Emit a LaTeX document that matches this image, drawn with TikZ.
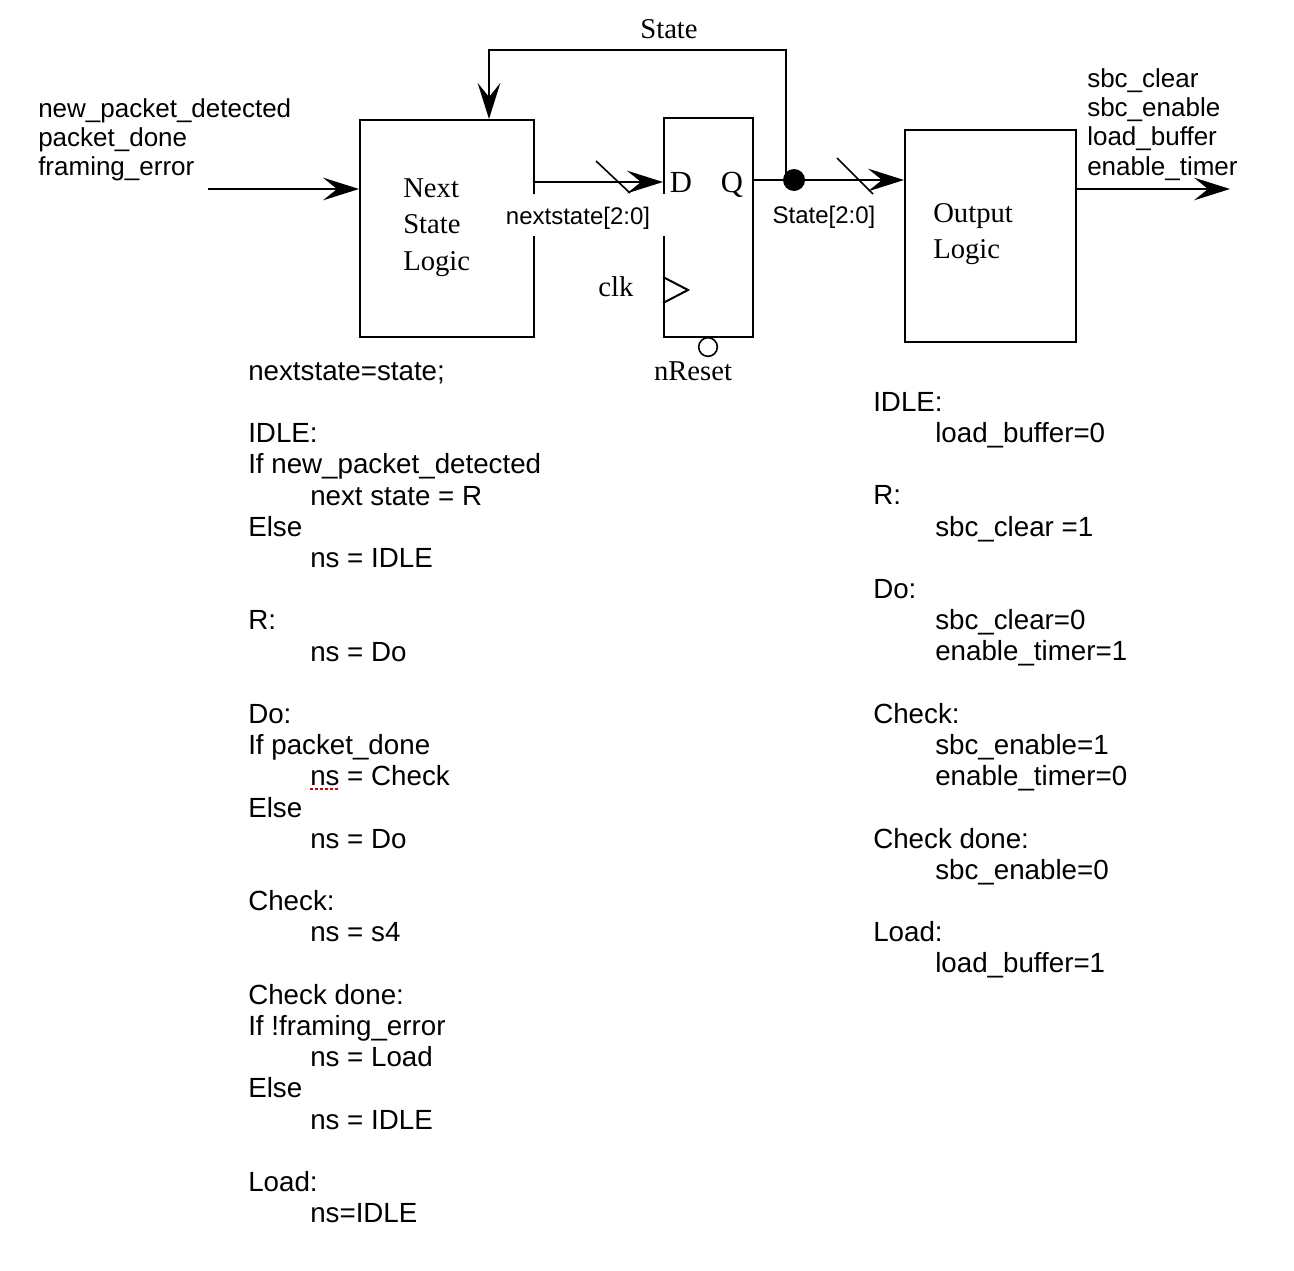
\documentclass[tikz,border=0pt]{standalone}
\usepackage{fontspec}
\setmainfont{Liberation Sans}
\newfontfamily\serifface{Liberation Serif}
\usetikzlibrary{arrows.meta}
\newcommand\ind{\hspace*{46.5pt}}

\begin{document}
\begin{tikzpicture}[x=0.75pt,y=-0.75pt,
  wire/.style={line width=1.5pt},
  arr/.style={wire,-{Stealth[length=27pt,width=17pt,inset=10.5pt]}},
  blockbox/.style={draw,line width=1.5pt,inner sep=0,anchor=north west},
  blocktext/.style={font=\serifface\fontsize{21.5pt}{27.4pt}\selectfont,align=left,anchor=north west,inner sep=0},
  serlabel/.style={font=\serifface\fontsize{21.5pt}{26pt}\selectfont,anchor=base,inner sep=0},
  pinlabel/.style={font=\serifface\fontsize{23pt}{26pt}\selectfont,anchor=base,inner sep=0},
  sig/.style={font=\fontsize{19.5pt}{22pt}\selectfont,align=left,anchor=north west,inner sep=0},
  code/.style={font=\fontsize{20.8pt}{23.4pt}\selectfont,align=left,anchor=north west,inner sep=0},
  buslabel/.style={font=\fontsize{18pt}{20pt}\selectfont,anchor=base,inner sep=0},
  busmark/.style={line width=1.2pt},
]
\useasboundingbox (0,0) rectangle (1294,1270);

% blocks
\node[blockbox,minimum width=130.5pt,minimum height=162.75pt] (nsl) at (359,119) {};
\node[blockbox,minimum width=66.75pt,minimum height=164.25pt] (ff) at (663,117) {};
\node[blockbox,minimum width=128.25pt,minimum height=159pt] (ol) at (904,129) {};

\node[blocktext] (nsltxt) at (403,171.5) {\strut Next\\State\\Logic};
\node[blocktext] (oltxt) at (933,196.5) {\strut Output\\Logic};

% flip-flop pins
\node[pinlabel] (dpinlbl) at (681,192) {D};
\node[pinlabel] (qpinlbl) at (732,192) {Q};
\node[serlabel] (clklbl) at (616,296) {clk};
\node[serlabel] (rstlbl) at (693,380) {nReset};
\draw[wire,line join=miter] (663,277) -- (688,290) -- (663,303);
\draw[line width=1.2pt] (708,347) circle [radius=7pt];

% connection points
\coordinate (inp) at (208,189);
\coordinate (dpin) at (663,182);
\coordinate (tap) at (786,180);
\coordinate (fbtop) at (489,50);
\coordinate (outp) at (1230,189);
\node[circle,fill=black,inner sep=0,minimum size=16.5pt] (jn) at (794,180) {};

% connectors
\draw[arr] (inp) -- (inp -| nsl.west);
\draw[arr] (nsl.east |- dpin) -- (ff.west |- dpin);
\draw[arr] (ff.east |- jn) -- (ol.west |- jn);
\draw[arr] (tap) |- (fbtop) -- (fbtop |- nsl.north);
\draw[arr] (ol.east |- outp) -- (outp);

% bus width marks
\draw[busmark] (596,161) -- (630,193);
\draw[busmark] (837,158) -- (873,194);

% labels
\node[serlabel] (statelbl) at (669,38.5) {State};
\fill[white] (506,194) rectangle (666,236);
\node[buslabel] (nslbl) at (578,224) {nextstate[2:0]};
\node[buslabel] (stlbl) at (824,223) {State[2:0]};

\node[sig] (inputs) at (38,96.5) {\strut new\_packet\_detected\\packet\_done\\framing\_error};
\node[sig] (outputs) at (1087,66.5) {\strut sbc\_clear\\sbc\_enable\\load\_buffer\\enable\_timer};

% next-state code
\node[code] (nscode) at (248,358.2) {\strut nextstate=state;\\
\strut\\
IDLE:\\
If new\_packet\_detected\\
\ind next state = R\\
Else\\
\ind ns = IDLE\\
\strut\\
R:\\
\ind ns = Do\\
\strut\\
Do:\\
If packet\_done\\
\ind ns = Check\\
Else\\
\ind ns = Do\\
\strut\\
Check:\\
\ind ns = s4\\
\strut\\
Check done:\\
If !framing\_error\\
\ind ns = Load\\
Else\\
\ind ns = IDLE\\
\strut\\
Load:\\
\ind ns=IDLE};
\draw[red!85!black,line width=1.3pt,dash pattern=on 2.2pt off 1.5pt] (310,789) -- (338,789);

% output code
\node[code] (olcode) at (873,389.2) {\strut IDLE:\\
\ind load\_buffer=0\\
\strut\\
R:\\
\ind sbc\_clear =1\\
\strut\\
Do:\\
\ind sbc\_clear=0\\
\ind enable\_timer=1\\
\strut\\
Check:\\
\ind sbc\_enable=1\\
\ind enable\_timer=0\\
\strut\\
Check done:\\
\ind sbc\_enable=0\\
\strut\\
Load:\\
\ind load\_buffer=1};
\end{tikzpicture}
\end{document}
